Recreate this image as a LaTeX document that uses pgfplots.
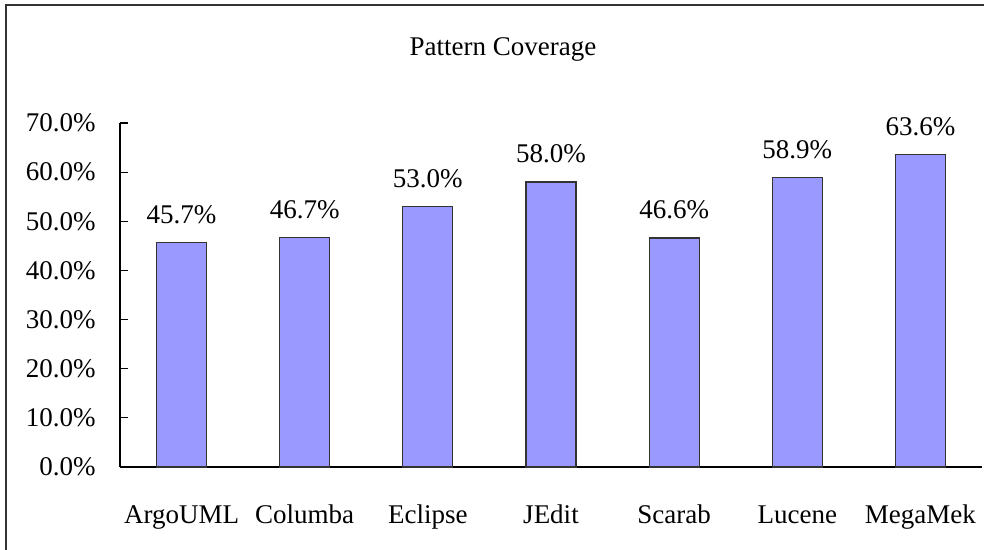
\documentclass[border=0pt]{standalone}
\usepackage{pgfplots}
\pgfplotsset{compat=1.18}
\usepackage{fontspec}
\setmainfont{Liberation Serif}
\definecolor{barfill}{HTML}{9999FF}
\definecolor{baredge}{HTML}{333333}
\begin{document}
\fontsize{13.5}{16}\selectfont
\begin{tikzpicture}
\useasboundingbox (-60pt,-41.5pt) rectangle (432pt,233.5pt);
\draw[line width=0.8pt, black!80] (-57pt,-45pt) -- (-57pt,231pt) -- (440pt,231pt);
\node[anchor=base] at (191.5pt,205.5pt) {Pattern Coverage};
\begin{axis}[
  at={(0pt,0pt)}, anchor=origin,
  width=431pt, height=172pt, scale only axis,
  xmin=0, xmax=7, ymin=0, ymax=70,
  axis x line=bottom, axis y line=left,
  axis line style={-, black, line width=0.6pt},
  major tick length=4pt,
  ytick={0,10,...,70},
  yticklabel={\pgfmathprintnumber[fixed,fixed zerofill,precision=1]{\tick}\%},
  /pgf/number format/assume math mode=true,
  y tick style={black, line width=0.6pt},
  tick align=inside,
  yticklabel style={xshift=-7.5pt},
  xtick={0.5,1.5,...,6.5},
  xticklabels={ArgoUML,Columba,Eclipse,JEdit,Scarab,Lucene,MegaMek},
  x tick style={draw=none},
  xticklabel style={anchor=base, yshift=-24.5pt},
  extra x ticks={1,2,3,4,5,6,7},
  extra x tick labels={},
  extra x tick style={tick style={draw=black, line width=0.6pt}},
  ybar, bar width=25pt,
  nodes near coords={\pgfmathprintnumber[fixed,fixed zerofill,precision=1]{\pgfplotspointmeta}\%},
  nodes near coords style={anchor=base, yshift=9.5pt, text=black},
  clip=false,
]
\addplot[fill=barfill, draw=baredge, line width=0.6pt] coordinates {(0.5,45.7) (1.5,46.7) (2.5,53.0) (3.5,58.0) (4.5,46.6) (5.5,58.9) (6.5,63.6)};
\end{axis}
\end{tikzpicture}
\end{document}
